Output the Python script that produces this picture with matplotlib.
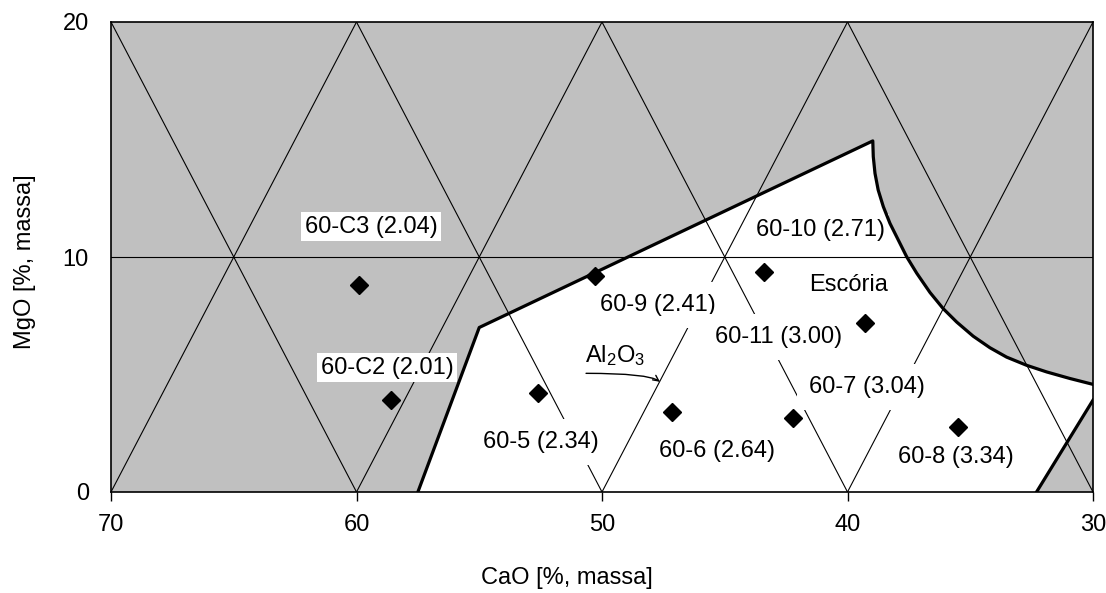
import matplotlib
matplotlib.use('Agg')
import matplotlib.pyplot as plt

plt.rcParams['font.family'] = ['Liberation Sans', 'DejaVu Sans']
plt.rcParams['mathtext.fontset'] = 'custom'
plt.rcParams['mathtext.rm'] = 'Liberation Sans'
plt.rcParams['mathtext.it'] = 'Liberation Sans'

# sample points (CaO, MgO in % massa)
names = ['60-C3 (2.04)', '60-C2 (2.01)', '60-5 (2.34)', '60-9 (2.41)', '60-6 (2.64)',
         '60-10 (2.71)', '60-11 (3.00)', '60-7 (3.04)', '60-8 (3.34)']
cao = [59.9, 58.6, 52.6, 50.3, 47.15, 43.4, 42.2, 39.3, 35.5]
mgo = [8.8, 3.9, 4.2, 9.2, 3.4, 9.35, 3.15, 7.2, 2.77]

# label placement
lab_cao = [59.4, 58.76, 52.48, 47.72, 45.32, 41.12, 42.79, 39.2, 35.58]
lab_mgo = [11.28, 5.28, 2.13, 7.96, 1.74, 11.15, 6.6, 4.47, 1.49]
lab_pad = [0.15, 0.15, 0.5, 0.5, 0.5, 0.2, 0.5, 0.5, 0.5]

# liquid (escoria) region boundary
upper_cao = [57.5, 55.0, 38.97, 38.95, 38.88, 38.75, 38.54, 38.27, 37.93, 37.59,
             37.18, 36.64, 36.10, 35.55, 34.88, 34.20, 33.52, 32.70, 31.89,
             30.94, 30.0]
upper_mgo = [0.0, 7.0, 14.94, 14.27, 13.56, 12.85, 12.14, 11.43, 10.72, 10.01,
             9.31, 8.49, 7.80, 7.23, 6.63, 6.14, 5.74, 5.39, 5.11,
             4.83, 4.58]
lower_cao = [30.0, 32.3]
lower_mgo = [3.91, 0.0]

# Al2O3 iso-lines
iso_from = [70, 60, 50, 40]

fig = plt.figure(figsize=(11.06, 5.93), dpi=100)
ax = fig.add_axes([111/1106, 101/593, 982/1106, 470/593])
ax.set_xlim(70, 30)
ax.set_ylim(0, 20)
ax.set_facecolor('#c0c0c0')

region_x = upper_cao + lower_cao
region_y = upper_mgo + lower_mgo
ax.fill(region_x, region_y, color='white', zorder=1)

for c in iso_from:
    ax.plot([c, c - 10], [20, 0], color='black', lw=0.8, zorder=2)
    ax.plot([c, c - 10], [0, 20], color='black', lw=0.8, zorder=2)
ax.axhline(10, color='black', lw=0.8, zorder=2)

ax.plot(upper_cao, upper_mgo, color='black', lw=2.3, zorder=4, solid_joinstyle='round')
ax.plot(lower_cao, lower_mgo, color='black', lw=2.3, zorder=4)

ax.plot(cao, mgo, 'D', color='black', ms=9, zorder=5)

for i in range(len(names)):
    ax.text(lab_cao[i], lab_mgo[i], names[i], fontsize=17, ha='center', va='center', zorder=3,
            bbox=dict(boxstyle='square,pad=%s' % lab_pad[i], fc='white', ec='none'))

ax.text(39.94, 8.8, 'Escória', fontsize=17, ha='center', va='center', zorder=3)
ax.text(49.45, 5.8, r'Al$_2$O$_3$', fontsize=17, ha='center', va='center', zorder=3)
ax.annotate('', xy=(47.64, 4.69), xytext=(50.65, 5.05), zorder=5,
            arrowprops=dict(arrowstyle='->', color='black', lw=1,
                            shrinkA=0, shrinkB=0,
                            connectionstyle='angle3,angleA=0,angleB=144'))

ax.set_xticks([70, 60, 50, 40, 30])
ax.set_yticks([0, 10, 20])
ax.tick_params(axis='x', direction='out', length=6.5, width=1, labelsize=17, pad=9)
ax.tick_params(axis='y', length=0, labelsize=17, pad=16)
for s in ax.spines.values():
    s.set_linewidth(1.2)
    s.set_zorder(6)

fig.text(567/1106, 1 - 578/593, 'CaO [%, massa]', fontsize=17, ha='center', va='center')
fig.text(25/1106, 1 - 262/593, 'MgO [%, massa]', fontsize=17, ha='center', va='center',
         rotation=90)

fig.savefig('out.png', dpi=100)
